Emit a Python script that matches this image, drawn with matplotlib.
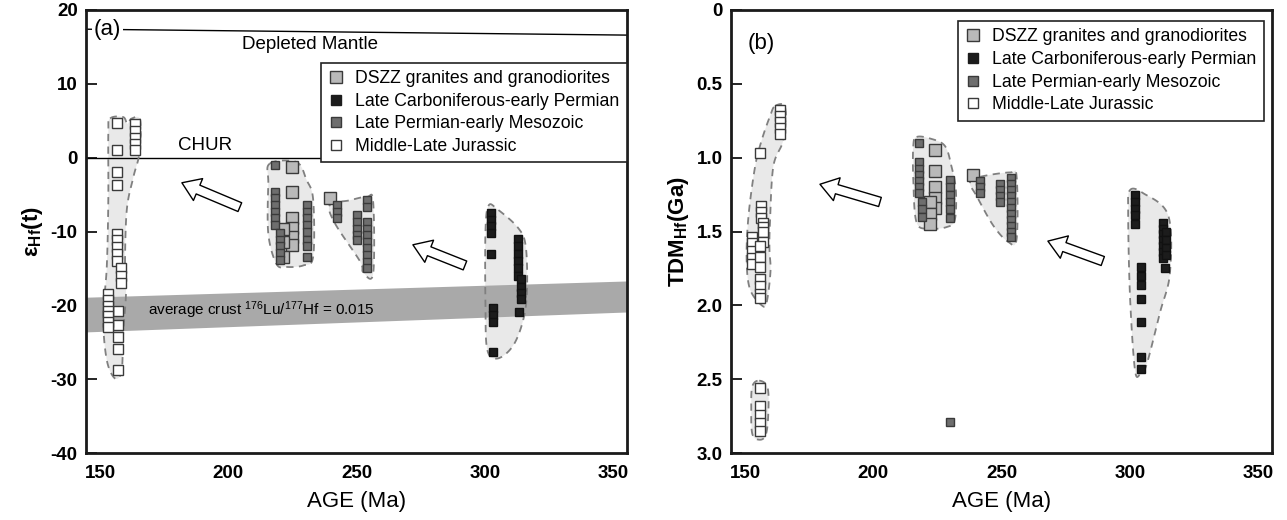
import numpy as np
import matplotlib
matplotlib.use("Agg")
import matplotlib.pyplot as plt
from matplotlib.lines import Line2D
from matplotlib.patches import Polygon

plt.rcParams['font.family'] = ['Liberation Sans', 'DejaVu Sans']
plt.rcParams['mathtext.fontset'] = 'custom'
plt.rcParams['mathtext.rm'] = 'Liberation Sans'
plt.rcParams['mathtext.bf'] = 'Liberation Sans:bold'
plt.rcParams['mathtext.it'] = 'Liberation Sans:italic'
plt.rcParams['axes.unicode_minus'] = False

# ---------------- data: panel (a) eHf(t) ----------------
jur_age_a = [156.6]*4 + [156.6]*5 + [158]*3 + [157]*5 + [153.2]*7 + [163.6]*5
jur_eps_a = [4.7, 1.0, -1.9, -3.7,
             -10.3, -11.2, -12.1, -13.0, -14.0,
             -15.0, -16.0, -17.0,
             -20.8, -22.6, -24.3, -25.9, -28.8,
             -18.4, -19.3, -20.1, -20.8, -21.5, -22.3, -23.0,
             4.5, 3.6, 2.7, 1.8, 1.0]

dszz_age_a = [224.7, 224.7, 224.7, 224.7, 224.7, 224.7, 221.3, 221.3, 221.3, 239.6]
dszz_eps_a = [-1.2, -4.6, -8.2, -9.5, -10.7, -11.8, -9.6, -11.4, -13.4, -5.5]

perm_age_a = ([218.2]*7 + [220.0]*5 + [230.5]*8 + [242.2]*3 + [250.0]*5 + [254.0]*10)
perm_eps_a = ([-1.0, -4.6, -5.5, -6.4, -7.3, -8.2, -9.1,
               -10.2, -11.1, -12.0, -12.9, -13.8,
               -6.4, -7.3, -8.2, -9.1, -10.0, -11.1, -12.0, -13.4,
               -6.4, -7.3, -8.2,
               -7.8, -8.7, -9.6, -10.5, -11.2,
               -5.8, -6.7, -8.7, -9.6, -10.5, -11.4, -12.3, -13.2, -14.1, -15.0])

carb_age_a = [302.3]*4 + [302.3] + [303.2]*3 + [303.2] + [313.0]*6 + [314.0]*4 + [313.5]
carb_eps_a = [-7.5, -8.4, -9.3, -10.2, -13.0, -20.3, -21.3, -22.3, -26.3,
              -11.0, -12.0, -13.0, -14.0, -15.0, -16.0,
              -16.5, -17.5, -18.3, -19.1, -20.9]

# envelopes (a)
env_a1_age = [153.9, 159.0, 160.6, 162.3, 165.6, 165.3, 163.0, 160.4, 159.7, 160.1, 159.0, 158.4,
              155.8, 152.6, 151.2, 152.6, 153.2, 153.2]
env_a1_eps = [5.3, 5.5, 4.6, 5.3, 5.1, 0.6, -2.6, -7.1, -14.8, -18.4, -23.8, -28.8,
              -29.9, -27.4, -21.6, -14.8, -5.7, 3.3]
env_a2_age = [216.2, 226.6, 230.5, 233.1, 233.1, 229.2, 222.7, 218.8, 215.6, 215.6]
env_a2_eps = [-0.8, -0.6, -3.0, -5.7, -13.4, -14.6, -14.8, -14.4, -10.3, -3.5]
env_a3_age = [239.6, 247.0, 254.0, 256.5, 256.5, 252.6, 251.3, 241.6]
env_a3_eps = [-6.4, -5.8, -5.3, -6.0, -15.7, -15.5, -14.0, -8.9]
env_a4_age = [301.5, 305.0, 313.0, 316.0, 316.5, 315.0, 311.0, 305.0, 301.0, 300.3, 300.3]
env_a4_eps = [-6.5, -7.0, -9.5, -12.0, -18.0, -22.0, -25.5, -27.2, -26.0, -20.0, -10.0]

dm_age = [144.5, 355.5]
dm_eps = [17.4, 16.6]
crust_age = [144.5, 355.5]
crust_top = [-18.9, -16.7]
crust_bot = [-23.6, -20.9]

# ---------------- data: panel (b) TDM ----------------
jur_age_b = ([163.8]*5 + [155.8] + [156.2]*3 + [157.0]*4 + [152.6]*5 + [155.8]*3 + [155.8]*4
             + [155.8]*5)
jur_tdm_b = ([0.68, 0.72, 0.76, 0.80, 0.84,
              0.97,
              1.33, 1.37, 1.41,
              1.44, 1.47, 1.50, 1.57,
              1.54, 1.58, 1.63, 1.68, 1.72,
              1.60, 1.67, 1.74,
              1.82, 1.87, 1.92, 1.95,
              2.56, 2.68, 2.74, 2.80, 2.85])

dszz_age_b = [224.0, 224.0, 224.0, 224.0, 224.0, 222.1, 222.1, 222.1, 239.0]
dszz_tdm_b = [0.95, 1.09, 1.20, 1.27, 1.34, 1.30, 1.38, 1.45, 1.12]

perm_age_b = ([217.9]*7 + [218.8]*3 + [229.9]*6 + [241.6]*3 + [249.4]*4 + [253.9]*11 + [229.9])
perm_tdm_b = ([0.90, 1.03, 1.08, 1.12, 1.16, 1.20, 1.24,
               1.30, 1.35, 1.40,
               1.15, 1.20, 1.25, 1.30, 1.35, 1.41,
               1.16, 1.20, 1.24,
               1.18, 1.22, 1.26, 1.30,
               1.14, 1.18, 1.22, 1.26, 1.30, 1.34, 1.38, 1.42, 1.46, 1.50, 1.54,
               2.79])

carb_age_b = [302.0]*5 + [304.6]*7 + [313.0]*7 + [314.3]*4 + [313.8]
carb_tdm_b = [1.25, 1.30, 1.35, 1.39, 1.45,
              1.74, 1.80, 1.86, 1.96, 2.11, 2.35, 2.43,
              1.44, 1.48, 1.52, 1.56, 1.60, 1.64, 1.68,
              1.50, 1.56, 1.61, 1.66, 1.75]

env_b1_age = [161.7, 165.6, 164.9, 161.0, 159.7, 159.5, 159.9, 158.4, 156.5, 151.9, 150.6,
              151.3, 153.9, 156.5, 159.7]
env_b1_tdm = [0.65, 0.66, 0.88, 1.06, 1.44, 1.62, 1.77, 1.98, 2.00, 1.89, 1.69,
              1.40, 1.06, 0.88, 0.72]
env_b2_age = [155.5, 158.8, 159.0, 158.0, 155.5, 152.8, 152.4, 152.8]
env_b2_tdm = [2.51, 2.56, 2.75, 2.88, 2.91, 2.87, 2.70, 2.55]
env_b3_age = [216.9, 222.1, 227.9, 230.5, 232.2, 231.8, 228.6, 222.1, 216.9, 215.6, 215.6]
env_b3_tdm = [0.86, 0.87, 0.92, 1.06, 1.22, 1.42, 1.47, 1.48, 1.44, 1.15, 0.92]
env_b4_age = [237.7, 241.6, 253.3, 255.9, 255.9, 252.6, 246.8, 240.3]
env_b4_tdm = [1.17, 1.13, 1.10, 1.13, 1.55, 1.57, 1.46, 1.26]
env_b5_age = [300.1, 305.2, 315.0, 315.7, 311.8, 306.6, 304.0, 302.0, 300.1, 299.4]
env_b5_tdm = [1.22, 1.24, 1.39, 1.78, 2.05, 2.40, 2.47, 2.43, 1.93, 1.37]

legend_labels = ['DSZZ granites and granodiorites', 'Late Carboniferous-early Permian',
                 'Late Permian-early Mesozoic', 'Middle-Late Jurassic']
x_ticks = [150, 200, 250, 300, 350]
y_ticks_a = [20, 10, 0, -10, -20, -30, -40]
y_ticks_b = [0, 0.5, 1.0, 1.5, 2.0, 2.5, 3.0]
y_ticklabels_b = ['0', '0.5', '1.0', '1.5', '2.0', '2.5', '3.0']

# ---------------- styles ----------------
C_DSZZ = '#b9b9b9'
C_CARB = '#1c1c1c'
C_PERM = '#6e6e6e'
C_JUR = 'white'
ENV_FILL = '#e9e9e9'
ENV_EDGE = '#808080'


def smooth_closed(xs, ys, n=20):
    x = np.asarray(xs, float); y = np.asarray(ys, float)
    m = len(x)
    out_x, out_y = [], []
    for i in range(m):
        p0 = np.array([x[(i - 1) % m], y[(i - 1) % m]])
        p1 = np.array([x[i], y[i]])
        p2 = np.array([x[(i + 1) % m], y[(i + 1) % m]])
        p3 = np.array([x[(i + 2) % m], y[(i + 2) % m]])
        for t in np.linspace(0, 1, n, endpoint=False):
            t2, t3 = t * t, t * t * t
            pt = 0.5 * ((2 * p1) + (-p0 + p2) * t + (2 * p0 - 5 * p1 + 4 * p2 - p3) * t2
                        + (-p0 + 3 * p1 - 3 * p2 + p3) * t3)
            out_x.append(pt[0]); out_y.append(pt[1])
    return np.column_stack([out_x, out_y])


def envelope(ax, xs, ys):
    pts = smooth_closed(xs, ys)
    ax.add_patch(Polygon(pts, closed=True, facecolor=ENV_FILL, edgecolor='none', zorder=1))
    ax.add_patch(Polygon(pts, closed=True, facecolor='none', edgecolor=ENV_EDGE,
                         lw=1.3, linestyle=(0, (4, 3)), zorder=3))


def squares(ax, x, y, fc, ms, ec='#3a3a3a'):
    ax.plot(x, y, linestyle='none', marker='s', ms=ms, mfc=fc, mec=ec, mew=1.0, zorder=4)


def arrow(ax, tip, tail):
    ax.annotate('', xy=tip, xytext=tail,
                arrowprops=dict(arrowstyle='simple,head_length=0.7,head_width=0.95,tail_width=0.38',
                                fc='white', ec='black', lw=1.0, mutation_scale=18,
                                shrinkA=0, shrinkB=0), zorder=5)


def make_legend(ax, anchor):
    handles = [
        Line2D([], [], ls='none', marker='s', ms=8.5, mfc=C_DSZZ, mec='#3a3a3a', mew=1.0),
        Line2D([], [], ls='none', marker='s', ms=6.5, mfc=C_CARB, mec='#1c1c1c', mew=1.0),
        Line2D([], [], ls='none', marker='s', ms=6.5, mfc=C_PERM, mec='#3a3a3a', mew=1.0),
        Line2D([], [], ls='none', marker='s', ms=6.5, mfc=C_JUR, mec='#3a3a3a', mew=1.0),
    ]
    leg = ax.legend(handles, legend_labels, loc='upper right', bbox_to_anchor=anchor,
                    frameon=True, fancybox=False, edgecolor='#222222', fontsize=12.7,
                    handlelength=0.8, handletextpad=0.7, labelspacing=0.32,
                    borderpad=0.42, borderaxespad=0.0, framealpha=1)
    leg.get_frame().set_linewidth(1.2)
    leg.set_zorder(6)
    return leg


def style_axes(ax):
    for s in ax.spines.values():
        s.set_linewidth(2.0)
        s.set_color('#1a1a1a')
    ax.set_xlim(144.5, 355.5)
    ax.set_xticks(x_ticks)
    ax.tick_params(axis='x', length=0, pad=9, labelsize=13.5)
    ax.tick_params(axis='y', direction='in', length=8, width=1.2, pad=6, labelsize=13.5)
    for lab in ax.get_xticklabels() + ax.get_yticklabels():
        lab.set_fontweight('bold')
    ax.set_xlabel('AGE (Ma)', fontsize=16, labelpad=6)


fig = plt.figure(figsize=(12.87, 5.2), dpi=100)
axa = fig.add_axes([86 / 1287, 67 / 520, 541 / 1287, 443 / 520])
axb = fig.add_axes([731 / 1287, 67 / 520, 541 / 1287, 443 / 520])

# ---------------- panel (a) ----------------
axa.set_ylim(-40, 20)
axa.set_yticks(y_ticks_a)
style_axes(axa)
axa.set_ylabel(r'$\mathbf{\varepsilon}_{\mathbf{Hf}}$(t)', fontsize=16, fontweight='bold', labelpad=4)

for ex, ey in [(env_a1_age, env_a1_eps), (env_a2_age, env_a2_eps),
               (env_a3_age, env_a3_eps), (env_a4_age, env_a4_eps)]:
    envelope(axa, ex, ey)

axa.fill_between(crust_age, crust_top, crust_bot, color='#a9a9a9', lw=0, zorder=2)
axa.text(168.7, -20.6, r'average crust $^{176}$Lu/$^{177}$Hf = 0.015', fontsize=11,
         va='center', ha='left', zorder=5)
axa.axhline(0, color='black', lw=1.0, zorder=2)
axa.plot(dm_age, dm_eps, color='black', lw=1.0, zorder=2)
axa.text(231.8, 15.3, 'Depleted Mantle', fontsize=13.5, ha='center', va='center')
axa.text(190.9, 1.7, 'CHUR', fontsize=13.5, ha='center', va='center')
axa.text(147.5, 17.4, '(a)', fontsize=16, ha='left', va='center',
         bbox=dict(facecolor='white', edgecolor='none', pad=1.5), zorder=5)

squares(axa, dszz_age_a, dszz_eps_a, C_DSZZ, 9.0)
squares(axa, perm_age_a, perm_eps_a, C_PERM, 6.3)
squares(axa, carb_age_a, carb_eps_a, C_CARB, 6.3, ec='#111111')
squares(axa, jur_age_a, jur_eps_a, C_JUR, 6.5)

arrow(axa, (181.9, -3.4), (204.5, -6.7))
arrow(axa, (272.0, -11.8), (292.3, -14.6))
make_legend(axa, (1.0, 0.881))

# ---------------- panel (b) ----------------
axb.set_ylim(3.0, 0)
axb.set_yticks(y_ticks_b)
axb.set_yticklabels(y_ticklabels_b)
style_axes(axb)
axb.set_ylabel(r'TDM$_{\mathbf{Hf}}$(Ga)', fontsize=16, fontweight='bold', labelpad=4)

for ex, ey in [(env_b1_age, env_b1_tdm), (env_b2_age, env_b2_tdm), (env_b3_age, env_b3_tdm),
               (env_b4_age, env_b4_tdm), (env_b5_age, env_b5_tdm)]:
    envelope(axb, ex, ey)

squares(axb, dszz_age_b, dszz_tdm_b, C_DSZZ, 9.0)
squares(axb, perm_age_b, perm_tdm_b, C_PERM, 6.3)
squares(axb, carb_age_b, carb_tdm_b, C_CARB, 6.3, ec='#111111')
squares(axb, jur_age_b, jur_tdm_b, C_JUR, 6.5)

axb.text(151.0, 0.23, '(b)', fontsize=16, ha='left', va='center')
arrow(axb, (179.2, 1.18), (202.6, 1.30))
arrow(axb, (268.1, 1.565), (289.5, 1.70))
make_legend(axb, (0.985, 0.975))

fig.savefig('out.png', dpi=100)
